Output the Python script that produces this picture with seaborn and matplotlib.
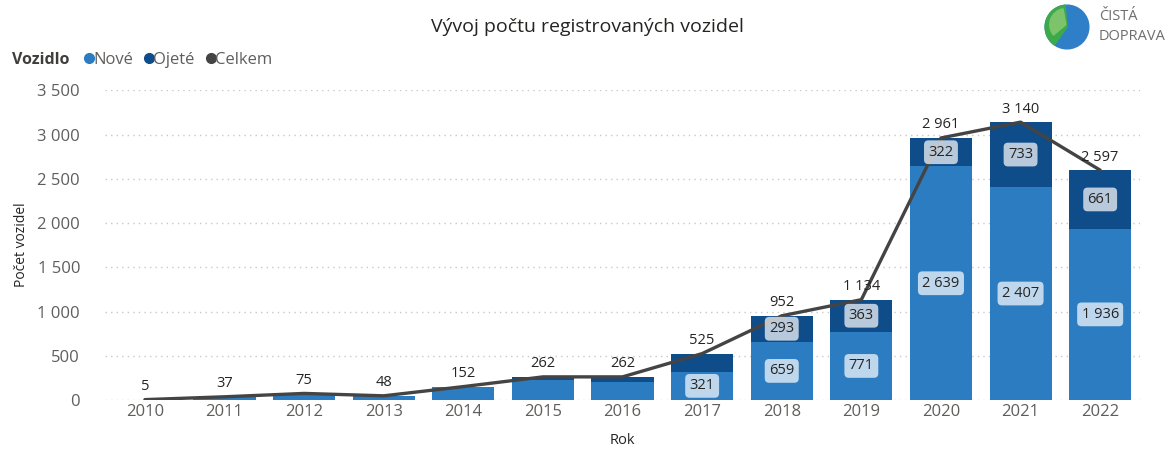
import numpy as np
import pandas as pd
import matplotlib
matplotlib.use('Agg')
import matplotlib.pyplot as plt
import seaborn as sns
from matplotlib.lines import Line2D
from matplotlib.patches import Wedge, Circle

# ── Data ──────────────────────────────────────────────────────────────
years  = ['2010', '2011', '2012', '2013', '2014', '2015', '2016',
          '2017', '2018', '2019', '2020', '2021', '2022']
nove   = [5, 35, 72, 44, 150, 225, 205, 321, 659, 771, 2639, 2407, 1936]
ojete  = [0, 2, 3, 4, 2, 37, 57, 204, 293, 363, 322, 733, 661]
celkem = [5, 37, 75, 48, 152, 262, 262, 525, 952, 1134, 2961, 3140, 2597]
yticks = [0, 500, 1000, 1500, 2000, 2500, 3000, 3500]

C_NOVE  = '#2B7CC1'
C_OJETE = '#0F4C8A'
C_LINE  = '#444444'
C_TEXT  = '#605E5C'

df = pd.DataFrame({'Rok': years, 'Nove': nove, 'Ojete': ojete,
                   'Celkem': celkem})

sns.set_style('white')
plt.rcParams['font.family'] = ['Open Sans', 'DejaVu Sans']

def fmt(v):
    return f'{v:,}'.replace(',', ' ')

fig = plt.figure(figsize=(11.68, 4.49), dpi=100)
ax = fig.add_axes([0.09, 0.109, 0.886, 0.69])

# stacked bars: full height in dark, new cars on top in light
sns.barplot(data=df, x='Rok', y='Celkem', color=C_OJETE, width=0.78,
            saturation=1, linewidth=0, ax=ax, zorder=2)
sns.barplot(data=df, x='Rok', y='Nove', color=C_NOVE, width=0.78,
            saturation=1, linewidth=0, ax=ax, zorder=2)
sns.pointplot(data=df, x='Rok', y='Celkem', color=C_LINE, markers='o',
              markersize=0, linewidth=2.4, errorbar=None, ax=ax, zorder=3)

# ── Labels ────────────────────────────────────────────────────────────
box = dict(boxstyle='round,pad=0.3,rounding_size=0.3', fc='white',
           ec='none', alpha=0.7)
for i in range(len(years)):
    if nove[i] >= 250:
        ax.text(i, nove[i] / 2, fmt(nove[i]), ha='center', va='center',
                fontsize=10.5, color='#252423', bbox=box, zorder=5)
    if ojete[i] >= 250:
        ax.text(i, nove[i] + ojete[i] / 2, fmt(ojete[i]), ha='center',
                va='center', fontsize=10.5, color='#252423', bbox=box,
                zorder=5)
    ax.annotate(fmt(celkem[i]), (i, celkem[i]), xytext=(0, 4),
                textcoords='offset points', ha='center', va='bottom',
                fontsize=10.5, color='#252423', zorder=5)

# ── Axes ──────────────────────────────────────────────────────────────
ax.set_ylim(0, 3500)
ax.set_xlim(-0.5, len(years) - 0.5)
ax.set_yticks(yticks)
ax.set_yticklabels([fmt(v) for v in yticks])
ax.yaxis.grid(True, linestyle=(0, (1, 3)), color='#C8C8C8', lw=1, zorder=0)
ax.xaxis.grid(False)
for s in ax.spines.values():
    s.set_visible(False)
ax.tick_params(axis='both', length=0, labelsize=12, labelcolor=C_TEXT)
ax.tick_params(axis='y', pad=18)
ax.tick_params(axis='x', pad=3)
ax.set_xlabel('Rok', fontsize=10.5, color='#252423', labelpad=9)
ax.set_ylabel('Počet vozidel', fontsize=10, color='#252423', labelpad=6)

# ── Title & legend ────────────────────────────────────────────────────
fig.text(0.503, 1 - 27 / 449, 'Vývoj počtu registrovaných vozidel',
         ha='center', va='center', fontsize=14, color='#252423')
fig.text(12 / 1168, 1 - 60 / 449, 'Vozidlo', ha='left', va='center',
         fontsize=11.5, fontweight='bold', color='#403E3C')
handles = [Line2D([], [], marker='o', ls='', color=c, markersize=7)
           for c in (C_NOVE, C_OJETE, C_LINE)]
fig.legend(handles, ['Nové', 'Ojeté', 'Celkem'], ncol=3, frameon=False,
           loc='center left', bbox_to_anchor=(71 / 1168, 1 - 60 / 449),
           fontsize=12, handletextpad=-0.35, columnspacing=0.35,
           handlelength=1.2, borderpad=0, labelcolor=C_TEXT)

# ── Logo ──────────────────────────────────────────────────────────────
lax = fig.add_axes([1044 / 1168, 1 - 50 / 449, 46 / 1168, 46 / 449])
lax.set_xlim(-1, 1)
lax.set_ylim(-1, 1)
lax.set_aspect('equal')
lax.axis('off')
lax.add_patch(Circle((0, 0), 0.95, color='#2F7FC8'))
lax.add_patch(Wedge((0, 0), 0.95, 95, 235, color='#3DAA4A'))
lax.add_patch(Wedge((-0.05, 0.1), 0.7, 100, 220, color='#7CC36B'))
fig.text(1099 / 1168, 1 - 17 / 449, 'ČISTÁ', ha='left', va='center',
         fontsize=10.5, color='#6E6E6E')
fig.text(1099 / 1168, 1 - 36 / 449, 'DOPRAVA', ha='left', va='center',
         fontsize=10.5, color='#6E6E6E')

fig.savefig('out.png', dpi=100)
